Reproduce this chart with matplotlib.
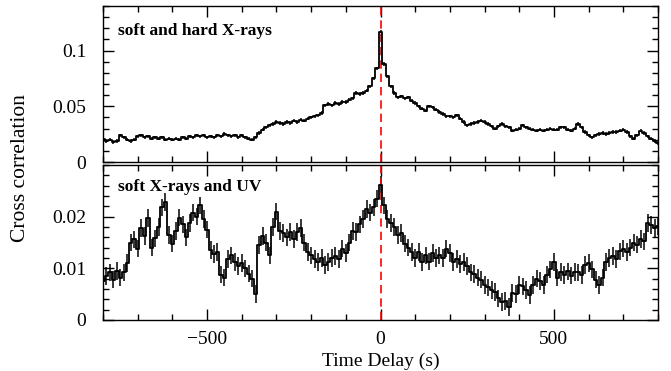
import numpy as np
import matplotlib
matplotlib.use("Agg")
import matplotlib.pyplot as plt
from matplotlib.ticker import MultipleLocator

plt.rcParams['font.family'] = ['Liberation Serif', 'DejaVu Serif']
plt.rcParams['mathtext.fontset'] = 'stix'

# time delay grid (s)
time_delay = list(range(-800, 801, 10))

# soft and hard X-rays cross correlation
soft_hard = [
    0.021, 0.019, 0.020, 0.018, 0.019, 0.024, 0.022, 0.020, 0.019, 0.020,
    0.023, 0.024, 0.022, 0.023, 0.021, 0.022, 0.021, 0.022, 0.020, 0.021,
    0.020, 0.021, 0.020, 0.022, 0.021, 0.023, 0.022, 0.024, 0.023, 0.024,
    0.022, 0.023, 0.022, 0.024, 0.023, 0.025, 0.024, 0.023, 0.024, 0.022,
    0.024, 0.022, 0.021, 0.020, 0.022, 0.026, 0.029, 0.031, 0.033, 0.034,
    0.036, 0.035, 0.034, 0.036, 0.035, 0.037, 0.036, 0.038, 0.037, 0.039,
    0.040, 0.041, 0.042, 0.044, 0.051, 0.052, 0.051, 0.053, 0.052, 0.054,
    0.054, 0.056, 0.057, 0.062, 0.061, 0.062, 0.064, 0.068, 0.075, 0.084,
    0.117,
    0.088, 0.077, 0.068, 0.062, 0.058, 0.059, 0.057, 0.058, 0.055, 0.053,
    0.050, 0.048, 0.046, 0.050, 0.049, 0.047, 0.045, 0.043, 0.041, 0.041,
    0.040, 0.042, 0.039, 0.036, 0.033, 0.034, 0.035, 0.036, 0.037, 0.036,
    0.034, 0.032, 0.030, 0.032, 0.034, 0.032, 0.031, 0.028, 0.029, 0.030,
    0.033, 0.031, 0.030, 0.029, 0.028, 0.029, 0.028, 0.029, 0.030, 0.029,
    0.029, 0.031, 0.031, 0.029, 0.028, 0.030, 0.034, 0.031, 0.027, 0.024,
    0.022, 0.024, 0.025, 0.026, 0.025, 0.026, 0.027, 0.027, 0.028, 0.029,
    0.027, 0.023, 0.021, 0.024, 0.028, 0.026, 0.023, 0.021, 0.019, 0.017,
]
soft_hard_err = 0.0015

# soft X-rays and UV cross correlation
soft_uv = [
    0.0075, 0.0085, 0.0092, 0.0078, 0.0095, 0.0082, 0.0092, 0.0110, 0.0150, 0.0156,
    0.0138, 0.0178, 0.0163, 0.0197, 0.0140, 0.0158, 0.0180, 0.0218, 0.0228, 0.0165,
    0.0148, 0.0172, 0.0198, 0.0185, 0.0160, 0.0188, 0.0208, 0.0200, 0.0222, 0.0195,
    0.0175, 0.0135, 0.0128, 0.0132, 0.0088, 0.0082, 0.0118, 0.0125, 0.0112, 0.0105,
    0.0110, 0.0100, 0.0090, 0.0080, 0.0050, 0.0145, 0.0163, 0.0150, 0.0125, 0.0180,
    0.0210, 0.0172, 0.0168, 0.0160, 0.0170, 0.0157, 0.0170, 0.0178, 0.0150, 0.0132,
    0.0125, 0.0118, 0.0112, 0.0120, 0.0106, 0.0112, 0.0120, 0.0124, 0.0118, 0.0138,
    0.0130, 0.0150, 0.0172, 0.0170, 0.0185, 0.0196, 0.0215, 0.0208, 0.0218, 0.0235,
    0.0262,
    0.0222, 0.0195, 0.0188, 0.0180, 0.0165, 0.0168, 0.0148, 0.0140, 0.0132, 0.0120,
    0.0132, 0.0112, 0.0125, 0.0113, 0.0130, 0.0120, 0.0125, 0.0120, 0.0138, 0.0130,
    0.0112, 0.0118, 0.0108, 0.0112, 0.0104, 0.0092, 0.0089, 0.0082, 0.0078, 0.0068,
    0.0063, 0.0058, 0.0054, 0.0042, 0.0035, 0.0037, 0.0025, 0.0052, 0.0050, 0.0068,
    0.0065, 0.0058, 0.0048, 0.0068, 0.0080, 0.0075, 0.0068, 0.0088, 0.0098, 0.0112,
    0.0082, 0.0093, 0.0087, 0.0094, 0.0086, 0.0093, 0.0092, 0.0087, 0.0106, 0.0110,
    0.0098, 0.0078, 0.0068, 0.0082, 0.0112, 0.0120, 0.0124, 0.0118, 0.0133, 0.0138,
    0.0132, 0.0140, 0.0150, 0.0146, 0.0157, 0.0152, 0.0188, 0.0184, 0.0178, 0.0182,
]
soft_uv_err = 0.0017

panel_labels = ["soft and hard X-rays", "soft X-rays and UV"]

W, H = 671, 371
fig = plt.figure(figsize=(W / 100, H / 100), dpi=100)
left, right = 103 / W, 658 / W
ax1 = fig.add_axes([left, 1 - 162 / H, right - left, (162 - 6) / H])
ax2 = fig.add_axes([left, 1 - 320 / H, right - left, (320 - 165) / H])

for ax, y, err, lab, ly in [(ax1, soft_hard, soft_hard_err, panel_labels[0], 0.84),
                            (ax2, soft_uv, soft_uv_err, panel_labels[1], 0.86)]:
    ax.errorbar(time_delay, y, yerr=err, color='black', lw=1.3, elinewidth=1.1,
                capsize=0, drawstyle='steps-mid')
    ax.axvline(0, color='red', lw=1.2, ls=(0, (5, 3)))
    ax.set_xlim(-800, 800)
    ax.xaxis.set_major_locator(MultipleLocator(500))
    ax.xaxis.set_minor_locator(MultipleLocator(100))
    ax.tick_params(which='both', direction='in', top=True, right=True,
                   labelsize=14, width=1.0)
    ax.tick_params(axis='y', which='major', pad=12)
    ax.tick_params(axis='x', which='major', pad=8)
    ax.tick_params(which='major', length=8)
    ax.tick_params(which='minor', length=4)
    for s in ax.spines.values():
        s.set_linewidth(1.0)
    ax.text(0.027, ly, lab, transform=ax.transAxes, fontsize=12.5,
            fontweight='bold', va='center', ha='left')

ax1.set_ylim(0, 0.14)
ax1.yaxis.set_minor_locator(MultipleLocator(0.01))
ax1.set_yticks([0, 0.05, 0.1])
ax1.set_yticklabels(["0", "0.05", "0.1"])
ax1.tick_params(labelbottom=False)

ax2.set_ylim(0, 0.03)
ax2.yaxis.set_minor_locator(MultipleLocator(0.002))
ax2.set_yticks([0, 0.01, 0.02])
ax2.set_yticklabels(["0", "0.01", "0.02"])
ax2.set_xticks([-500, 0, 500])
ax2.set_xticklabels(["\u2212500", "0", "500"])
ax2.set_xlabel("Time Delay (s)", fontsize=14, labelpad=3)

fig.text(21 / W, 1 - 168 / H, "Cross correlation", rotation=90,
         fontsize=15.5, va='center', ha='center')

fig.savefig("out.png", dpi=100)
